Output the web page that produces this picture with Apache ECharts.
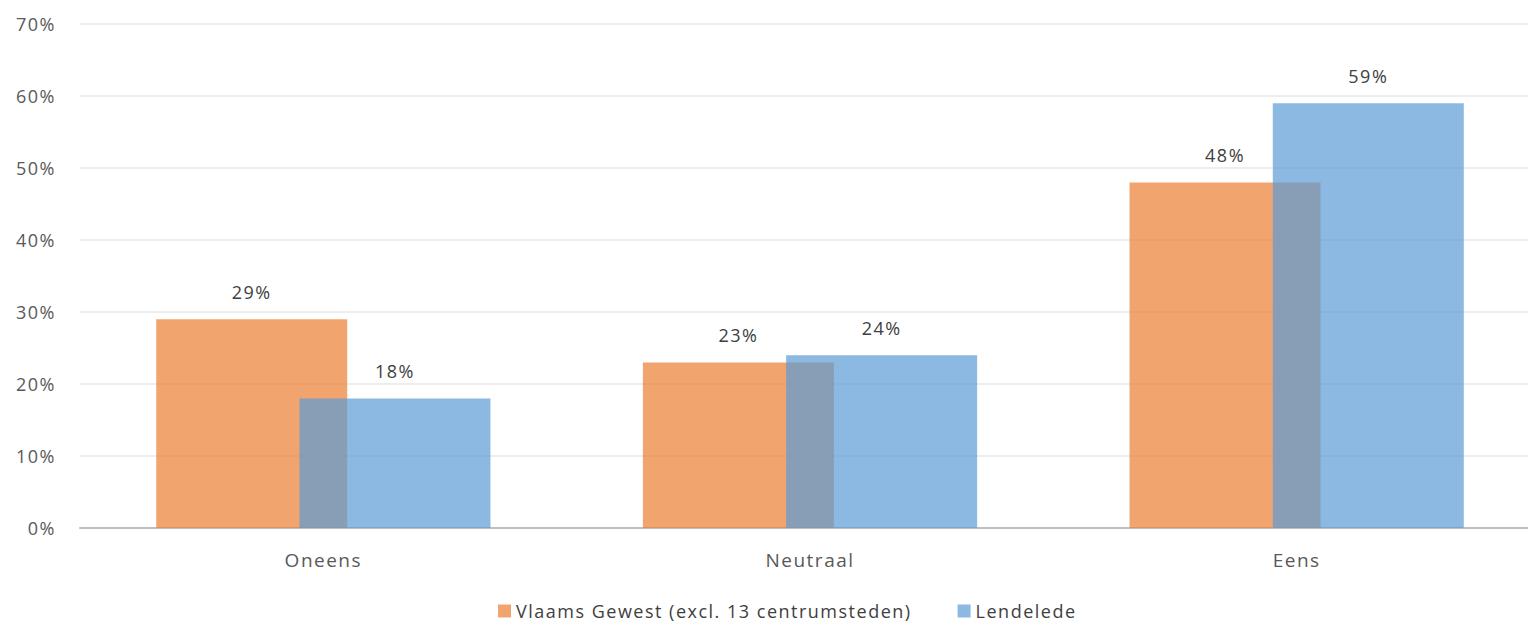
<!DOCTYPE html>
<html><head><meta charset="utf-8">
<script src="https://cdn.jsdelivr.net/npm/echarts@6/dist/echarts.min.js"></script>
<style>html,body{margin:0;padding:0;background:#fff;overflow:hidden}#c{width:1540px;height:624px}
#c text{letter-spacing:1.5px}</style>
</head><body><div id="c"></div>
<script>
const categories = ['Oneens', 'Neutraal', 'Eens'];
const seriesNames = ['Vlaams Gewest (excl. 13 centrumsteden)', 'Lendelede'];
const vlaams = [29, 23, 48];
const lendelede = [18, 24, 59];
const yTicks = { min: 0, max: 70, interval: 10 };

const font = '"Open Sans", "Noto Sans", sans-serif';
const chart = echarts.init(document.getElementById('c'), null, { renderer: 'svg' });
const lbl = { show: true, position: 'top', distance: 18, formatter: p => p.value + '%', color: '#404040', fontSize: 18, fontFamily: font };
chart.setOption({
  animation: false,
  grid: { left: 80, right: 0, top: 24, bottom: 96 },
  legend: {
    top: 597, left: 493, itemWidth: 13, itemHeight: 13, itemGap: 103, itemTextGap: 8,
    icon: 'rect',
    textStyle: { color: '#404040', fontSize: 18, fontFamily: font },
    data: seriesNames
  },
  xAxis: {
    type: 'category', data: categories,
    axisLine: { lineStyle: { color: '#BFBFBF', width: 2 } },
    axisTick: { show: false },
    axisLabel: { color: '#595959', fontSize: 19, fontFamily: font, margin: 22 }
  },
  yAxis: {
    type: 'value', min: yTicks.min, max: yTicks.max, interval: yTicks.interval,
    axisLabel: { formatter: v => v + '%', color: '#595959', fontSize: 18, fontFamily: font, margin: 24 },
    splitLine: { lineStyle: { color: '#EDEDED', width: 2 } },
    axisLine: { show: false }, axisTick: { show: false }
  },
  series: [
    { name: seriesNames[0], type: 'bar', data: vlaams, barWidth: 191, barGap: '-25%',
      itemStyle: { color: 'rgba(237,125,49,0.7)' }, label: lbl },
    { name: seriesNames[1], type: 'bar', data: lendelede, barWidth: 191,
      itemStyle: { color: 'rgba(91,155,213,0.7)' }, label: lbl }
  ]
});
</script></body></html>
